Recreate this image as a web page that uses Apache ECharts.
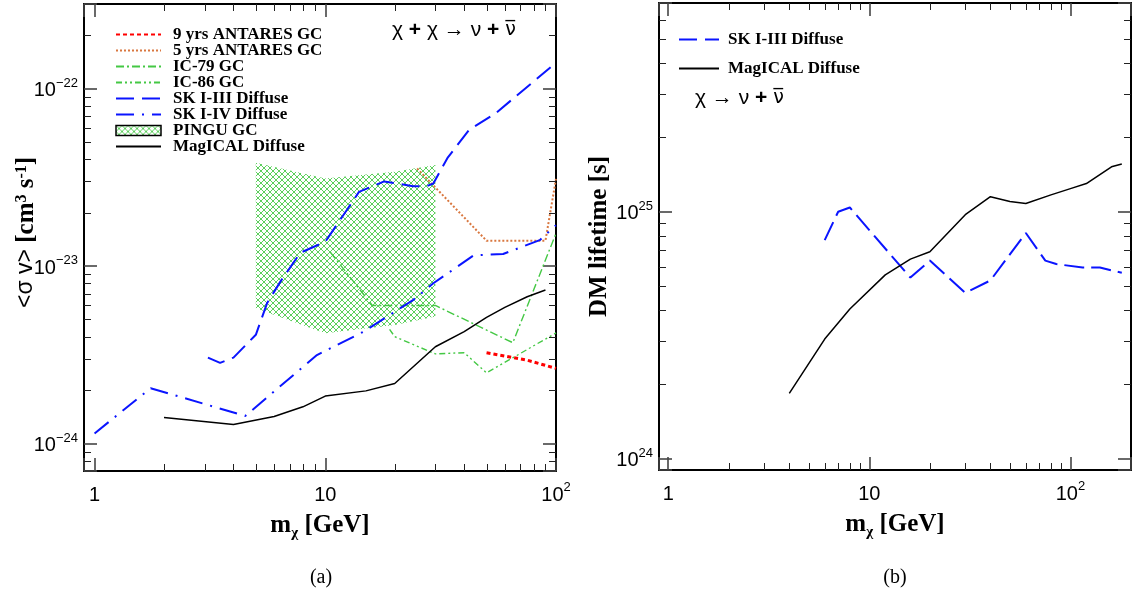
<!DOCTYPE html>
<html>
<head>
<meta charset="utf-8">
<script src="https://cdn.jsdelivr.net/npm/echarts@6/dist/echarts.min.js"></script>
<style>
  html, body { margin: 0; padding: 0; background: #fff; }
  #main { width: 1134px; height: 593px; }
</style>
</head>
<body>
<div id="main"></div>
<script>
// ---------- panel (a): <sigma v> limits (cm^3 s^-1) vs DM mass (GeV) ----------
const antares9Mass = [50, 75, 100];
const antares9Sv   = [3.25e-24, 2.95e-24, 2.65e-24];

const antares5Mass = [25, 50, 90, 100];
const antares5Sv   = [3.55e-23, 1.39e-23, 1.39e-23, 3.1e-23];

const ic79Mass = [10.5, 16, 30, 65, 100];
const ic79Sv   = [1.2e-23, 6.0e-24, 6.0e-24, 3.7e-24, 1.53e-23];

const ic86Mass = [19, 20, 30, 40, 50, 100];
const ic86Sv   = [4.4e-24, 4.0e-24, 3.2e-24, 3.25e-24, 2.5e-24, 4.2e-24];

const sk3Mass = [3.1, 3.5, 4, 5, 5.6, 6.4, 7.8, 10, 12.4, 14, 18, 24, 27.5, 29.4, 34, 42, 55, 100];
const sk3Sv   = [3.05e-24, 2.85e-24, 3.05e-24, 4.1e-24, 6.2e-24, 8.2e-24, 1.19e-23, 1.37e-23, 2.07e-23,
                 2.62e-23, 3.0e-23, 2.82e-23, 2.82e-23, 2.92e-23, 4.1e-23, 5.85e-23, 7.3e-23, 1.4e-22];

const sk4Mass = [1, 1.75, 4.5, 9.2, 14.6, 24, 29.4, 44, 59, 85, 100];
const sk4Sv   = [1.14e-24, 2.05e-24, 1.43e-24, 3.15e-24, 4.26e-24, 6.43e-24, 8.0e-24, 1.15e-23, 1.17e-23, 1.4e-23, 1.7e-23];

const pinguMass  = [5, 10, 20, 30];
const pinguUpper = [3.82e-23, 3.12e-23, 3.4e-23, 3.71e-23];
const pinguLower = [5.78e-24, 4.18e-24, 4.65e-24, 5.2e-24];

const magAMass = [2, 4, 6, 8, 10, 15, 20, 30, 40, 50, 60, 75, 90];
const magASv   = [1.40e-24, 1.28e-24, 1.42e-24, 1.61e-24, 1.85e-24, 1.98e-24, 2.18e-24,
                  3.51e-24, 4.27e-24, 5.14e-24, 5.85e-24, 6.72e-24, 7.33e-24];

// ---------- panel (b): DM lifetime limits (s) vs DM mass (GeV) ----------
const lifeSkMass = [6, 7, 8, 16, 20, 30, 40, 60, 75, 85, 115, 140, 180];
const lifeSkTau  = [7.67e24, 1.0e25, 1.04e25, 5.41e24, 6.34e24, 4.69e24, 5.27e24, 8.2e24,
                    6.34e24, 6.14e24, 5.94e24, 5.94e24, 5.66e24];

const lifeMagMass = [4, 6, 8, 12, 16, 20, 30, 40, 50, 60, 80, 100, 120, 160, 180];
const lifeMagTau  = [1.84e24, 3.05e24, 4.04e24, 5.55e24, 6.43e24, 6.89e24, 9.73e24, 1.15e25,
                     1.10e25, 1.08e25, 1.17e25, 1.24e25, 1.30e25, 1.52e25, 1.56e25];

// ---------- axis ranges and minor-tick decades ----------
const xRangeA = [0.9, 100];
const yRangeA = [7e-25, 3e-22];
const xRangeB = [0.9, 200];
const yRangeB = [9e23, 7e25];
const xDecadesA = [1, 10];
const yDecadesA = [1e-25, 1e-24, 1e-23, 1e-22];
const xDecadesB = [1, 10, 100];
const yDecadesB = [1e23, 1e24, 1e25];

const legendNamesA = ['9 yrs ANTARES GC', '5 yrs ANTARES GC', 'IC-79 GC', 'IC-86 GC',
                      'SK I-III Diffuse', 'SK I-IV Diffuse', 'PINGU GC', 'MagICAL Diffuse'];
const legendNamesB = ['SK I-III Diffuse', 'MagICAL Diffuse'];

// The cross-section axis works in units of 1e-24 cm^3/s (log-scale tick
// rounding in the library loses values this small); labels add the exponent back.
const SV_EXP = -24;
const SV_UNIT = Math.pow(10, SV_EXP);
const toSv = v => v / SV_UNIT;

const pairs = (xs, ys, f) => xs.map((x, i) => [x, f ? f(ys[i]) : ys[i]]);

function minorValues(decades, range) {
  const out = [];
  decades.forEach(d => {
    for (let k = 2; k <= 9; k++) {
      const v = k * d;
      if (v > range[0] * 1.001 && v < range[1] * 0.999) out.push(v);
    }
  });
  return out;
}
function minorData(xDec, xr, yDec, yr, fy) {
  fy = fy || (v => v);
  const d = [];
  minorValues(xDec, xr).forEach(v => d.push([v, fy(yr[0]), 0]));
  minorValues(yDec, yr).forEach(v => d.push([xr[0], fy(v), 1]));
  return d;
}

// cross-hatch fill for the PINGU band
const hatchCanvas = document.createElement('canvas');
hatchCanvas.width = 6; hatchCanvas.height = 6;
(function () {
  const g = hatchCanvas.getContext('2d');
  g.fillStyle = '#ffffff'; g.fillRect(0, 0, 6, 6);
  g.strokeStyle = '#5ccf5c'; g.lineWidth = 1;
  g.beginPath(); g.moveTo(0, 0); g.lineTo(6, 6); g.moveTo(6, 0); g.lineTo(0, 6); g.stroke();
})();
const hatch = { image: hatchCanvas, repeat: 'repeat' };

const SANS = 'Liberation Sans';
const SERIF = 'Liberation Serif';

const tickRich = {
  b: { fontFamily: SANS, fontSize: 20, lineHeight: 24, verticalAlign: 'bottom', color: '#000' },
  s: { fontFamily: SANS, fontSize: 13, lineHeight: 13, verticalAlign: 'top', color: '#000' }
};
function powLabelFor(offset) {
  return function (v) {
    const l = Math.log10(v), e0 = Math.round(l);
    if (Math.abs(l - e0) > 1e-6) return '';
    const e = e0 + offset;
    if (e === 0) return '{b|1}';
    if (e === 1) return '{b|10}';
    return '{b|10}{s|' + String(e).replace('-', '\u2212') + '}';
  };
}

function titleRich(pad) {
  return {
    b: { fontFamily: SERIF, fontWeight: 'bold', fontSize: 25, lineHeight: 28, verticalAlign: 'top', color: '#000' },
    g: { fontFamily: SERIF, fontWeight: 'bold', fontSize: 15, lineHeight: 14, verticalAlign: 'bottom', color: '#000' },
    s: { fontFamily: SANS, fontSize: 23, lineHeight: 28, verticalAlign: 'top', color: '#000' },
    sup: { fontFamily: SERIF, fontWeight: 'bold', fontSize: 16, lineHeight: 15, verticalAlign: 'top', color: '#000' },
    e: { fontSize: 1, lineHeight: 1, padding: pad || 0 }
  };
}
const massTitle = '{b|m}{g|\u03c7}{b| [GeV]}';

function frameAxis(base) {
  return Object.assign({
    type: 'log', logBase: 10,
    nameMoveOverlap: false,
    axisLine: { show: true, onZero: false, lineStyle: { color: '#000', width: 2 } },
    axisTick: { show: true, inside: true, length: 13, lineStyle: { color: '#444', width: 1.6 } },
    splitLine: { show: false },
    minorTick: { show: false }
  }, base);
}

function minorTickItem(params, api) {
  const cs = params.coordSys;
  const p = api.coord([api.value(0), api.value(1)]);
  const st = { stroke: '#222', lineWidth: 1 };
  const L = 7;
  if (api.value(2) === 0) {
    const x = Math.round(p[0]) + 0.5;
    return { type: 'group', children: [
      { type: 'line', shape: { x1: x, y1: cs.y + cs.height, x2: x, y2: cs.y + cs.height - L }, style: st },
      { type: 'line', shape: { x1: x, y1: cs.y, x2: x, y2: cs.y + L }, style: st }
    ] };
  }
  const y = Math.round(p[1]) + 0.5;
  return { type: 'group', children: [
    { type: 'line', shape: { x1: cs.x, y1: y, x2: cs.x + L, y2: y }, style: st },
    { type: 'line', shape: { x1: cs.x + cs.width, y1: y, x2: cs.x + cs.width - L, y2: y }, style: st }
  ] };
}

function lineSeries(name, xs, ys, color, width, dash, axis, f) {
  return {
    type: 'line', name, data: pairs(xs, ys, f), xAxisIndex: axis, yAxisIndex: axis,
    symbol: 'none', smooth: false, z: 5, animation: false,
    lineStyle: { color, width, type: dash }, itemStyle: { color }
  };
}

const annRich = {
  n: { fontFamily: SANS, fontSize: 21, color: '#000' },
  p: { fontFamily: SANS, fontWeight: 'bold', fontSize: 21, color: '#000' },
  v: { fontFamily: 'DejaVu Sans', fontSize: 19, color: '#000' }
};

const chart = echarts.init(document.getElementById('main'), null, { renderer: 'canvas' });

const option = {
  animation: false,
  backgroundColor: '#fff',
  grid: [
    { left: 84, top: 4, width: 472, height: 467 },
    { left: 659, top: 3, width: 473, height: 467 }
  ],
  xAxis: [
    frameAxis({ gridIndex: 0, position: 'bottom', min: xRangeA[0], max: xRangeA[1],
      axisLabel: { formatter: powLabelFor(0), rich: tickRich, margin: 10 },
      name: massTitle, nameLocation: 'middle', nameGap: 42, nameTextStyle: { rich: titleRich() } }),
    frameAxis({ gridIndex: 0, position: 'top', min: xRangeA[0], max: xRangeA[1], axisLabel: { show: false } }),
    frameAxis({ gridIndex: 1, position: 'bottom', min: xRangeB[0], max: xRangeB[1],
      axisLabel: { formatter: powLabelFor(0), rich: tickRich, margin: 10 },
      name: massTitle, nameLocation: 'middle', nameGap: 42, nameTextStyle: { rich: titleRich() } }),
    frameAxis({ gridIndex: 1, position: 'top', min: xRangeB[0], max: xRangeB[1], axisLabel: { show: false } })
  ],
  yAxis: [
    frameAxis({ gridIndex: 0, position: 'left', min: toSv(yRangeA[0]), max: toSv(yRangeA[1]),
      axisLabel: { formatter: powLabelFor(SV_EXP), rich: tickRich, margin: 6 },
      name: '{e| }{s|<\u03c3 v>}{b| [cm}{sup|3}{b| s}{sup|-1}{b|]}', nameLocation: 'middle', nameGap: 42,
      nameTextStyle: { rich: titleRich([0, 0, 0, 10]) } }),
    frameAxis({ gridIndex: 0, position: 'right', min: toSv(yRangeA[0]), max: toSv(yRangeA[1]), axisLabel: { show: false } }),
    frameAxis({ gridIndex: 1, position: 'left', min: yRangeB[0], max: yRangeB[1],
      axisLabel: { formatter: powLabelFor(0), rich: tickRich, margin: 6 },
      name: '{b|DM lifetime [s]}', nameLocation: 'middle', nameGap: 44,
      nameTextStyle: { rich: titleRich() } }),
    frameAxis({ gridIndex: 1, position: 'right', min: yRangeB[0], max: yRangeB[1], axisLabel: { show: false } })
  ],
  legend: [
    {
      left: 110, top: 21, orient: 'vertical', itemWidth: 45, itemHeight: 10, itemGap: -1,
      selectedMode: false,
      itemStyle: { opacity: 0 },
      textStyle: { fontFamily: SERIF, fontWeight: 'bold', fontSize: 17, lineHeight: 15, color: '#000', padding: [0, 0, 0, 7] },
      data: legendNamesA.map(n => n === 'PINGU GC'
        ? { name: n, icon: 'rect', itemStyle: { opacity: 1, color: hatch, borderColor: '#000', borderWidth: 1.5 } }
        : { name: n })
    },
    {
      left: 673, top: 26, orient: 'vertical', itemWidth: 40, itemHeight: 10, itemGap: 12,
      selectedMode: false,
      itemStyle: { opacity: 0 },
      textStyle: { fontFamily: SERIF, fontWeight: 'bold', fontSize: 17, lineHeight: 16, color: '#000', padding: [0, 0, 0, 4] },
      data: legendNamesB
    }
  ],
  graphic: [
    { type: 'text', left: 392, top: 20, z: 10,
      style: { text: '{n|\u03c7 }{p|+}{n| \u03c7 \u2192 \u03bd }{p|+}{v| \u03bd\u0305}', rich: annRich } },
    { type: 'text', left: 695, top: 88, z: 10,
      style: { text: '{n|\u03c7 \u2192 \u03bd }{p|+}{v| \u03bd\u0305}', rich: annRich } },
    { type: 'text', x: 321, y: 578, style: { text: '(a)', fontFamily: SERIF, fontSize: 20, fill: '#000', align: 'center', verticalAlign: 'middle' } },
    { type: 'text', x: 895, y: 578, style: { text: '(b)', fontFamily: SERIF, fontSize: 20, fill: '#000', align: 'center', verticalAlign: 'middle' } }
  ],
  series: [
    {
      type: 'custom', name: 'PINGU GC', xAxisIndex: 0, yAxisIndex: 0, z: 2, silent: true,
      itemStyle: { color: hatch },
      data: pinguMass.map((m, i) => [m, toSv(pinguLower[i]), toSv(pinguUpper[i])]),
      renderItem: function (params, api) {
        if (params.dataIndex !== 0) return null;
        const pts = [];
        pinguMass.forEach((m, i) => pts.push(api.coord([m, toSv(pinguUpper[i])])));
        for (let i = pinguMass.length - 1; i >= 0; i--) pts.push(api.coord([pinguMass[i], toSv(pinguLower[i])]));
        return { type: 'polygon', shape: { points: pts }, style: { fill: hatch, stroke: null } };
      }
    },
    lineSeries('9 yrs ANTARES GC', antares9Mass, antares9Sv, '#ff0000', 3, [4, 3], 0, toSv),
    lineSeries('5 yrs ANTARES GC', antares5Mass, antares5Sv, '#d9773f', 2, [2, 2], 0, toSv),
    lineSeries('IC-79 GC', ic79Mass, ic79Sv, '#44c844', 1.4, [8, 3, 2, 3], 0, toSv),
    lineSeries('IC-86 GC', ic86Mass, ic86Sv, '#44c844', 1.4, [6, 3, 2, 3, 2, 3], 0, toSv),
    lineSeries('SK I-III Diffuse', sk3Mass, sk3Sv, '#0a14ff', 2, [18, 8], 0, toSv),
    lineSeries('SK I-IV Diffuse', sk4Mass, sk4Sv, '#0a14ff', 2, [18, 8, 2, 8], 0, toSv),
    lineSeries('MagICAL Diffuse', magAMass, magASv, '#000000', 1.5, 'solid', 0, toSv),
    lineSeries('SK I-III Diffuse', lifeSkMass, lifeSkTau, '#0a14ff', 2, [20, 7], 2),
    lineSeries('MagICAL Diffuse', lifeMagMass, lifeMagTau, '#000000', 1.5, 'solid', 2),
    {
      type: 'custom', xAxisIndex: 0, yAxisIndex: 0, z: 20, silent: true, clip: false,
      data: minorData(xDecadesA, xRangeA, yDecadesA, yRangeA, toSv), renderItem: minorTickItem
    },
    {
      type: 'custom', xAxisIndex: 2, yAxisIndex: 2, z: 20, silent: true, clip: false,
      data: minorData(xDecadesB, xRangeB, yDecadesB, yRangeB), renderItem: minorTickItem
    }
  ]
};

chart.setOption(option);
</script>
</body>
</html>
